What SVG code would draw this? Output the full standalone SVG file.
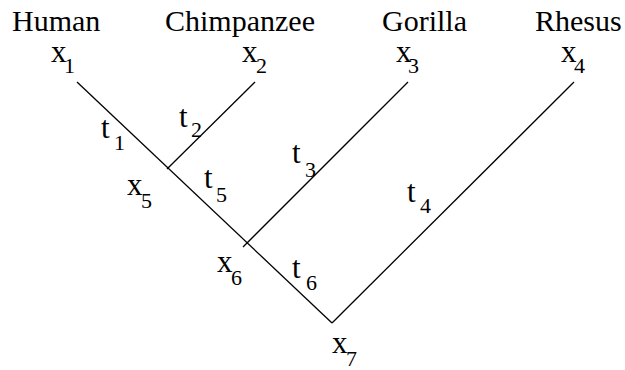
<svg xmlns="http://www.w3.org/2000/svg" width="625" height="370" viewBox="0 0 625 370">
<rect width="625" height="370" fill="#fff"/>
<g id="connectors" stroke="#000" stroke-width="1.3" fill="none">
<line x1="77" y1="82" x2="332" y2="323"/>
<line x1="255" y1="82" x2="167" y2="169"/>
<line x1="408" y1="82" x2="243" y2="247"/>
<line x1="574" y1="82" x2="332" y2="323"/>
</g>
<g id="branch-labels" fill="#000">
<text font-family="Liberation Serif" font-size="31" x="101" y="138">t</text><text font-family="Liberation Serif" font-size="22" x="114" y="150">1</text>
<text font-family="Liberation Serif" font-size="31" x="179" y="127">t</text><text font-family="Liberation Serif" font-size="22" x="191" y="137">2</text>
<text font-family="Liberation Serif" font-size="31" x="292" y="163">t</text><text font-family="Liberation Serif" font-size="22" x="305" y="177">3</text>
<text font-family="Liberation Serif" font-size="31" x="407" y="202">t</text><text font-family="Liberation Serif" font-size="22" x="420" y="213">4</text>
<text font-family="Liberation Serif" font-size="31" x="204" y="188">t</text><text font-family="Liberation Serif" font-size="22" x="216" y="202">5</text>
<text font-family="Liberation Serif" font-size="31" x="292" y="278">t</text><text font-family="Liberation Serif" font-size="22" x="306" y="290">6</text>
</g>
<g id="x1" fill="#000"><text font-family="Liberation Serif" font-size="30" x="12" y="31">Human</text><text font-family="Liberation Serif" font-size="31" x="51" y="62">x</text><text font-family="Liberation Serif" font-size="22" x="64" y="73">1</text></g>
<g id="x2" fill="#000"><text font-family="Liberation Serif" font-size="30" x="165" y="31">Chimpanzee</text><text font-family="Liberation Serif" font-size="31" x="242" y="62">x</text><text font-family="Liberation Serif" font-size="22" x="256" y="73">2</text></g>
<g id="x3" fill="#000"><text font-family="Liberation Serif" font-size="30" x="382" y="31">Gorilla</text><text font-family="Liberation Serif" font-size="31" x="396" y="62">x</text><text font-family="Liberation Serif" font-size="22" x="408" y="73">3</text></g>
<g id="x4" fill="#000"><text font-family="Liberation Serif" font-size="30" x="535" y="31">Rhesus</text><text font-family="Liberation Serif" font-size="31" x="561" y="62">x</text><text font-family="Liberation Serif" font-size="22" x="574" y="73">4</text></g>
<g id="x5" fill="#000"><text font-family="Liberation Serif" font-size="31" x="127" y="195">x</text><text font-family="Liberation Serif" font-size="22" x="141" y="208">5</text></g>
<g id="x6" fill="#000"><text font-family="Liberation Serif" font-size="31" x="217" y="272">x</text><text font-family="Liberation Serif" font-size="22" x="231" y="285">6</text></g>
<g id="x7" fill="#000"><text font-family="Liberation Serif" font-size="31" x="332" y="353">x</text><text font-family="Liberation Serif" font-size="22" x="346" y="366">7</text></g>
</svg>
